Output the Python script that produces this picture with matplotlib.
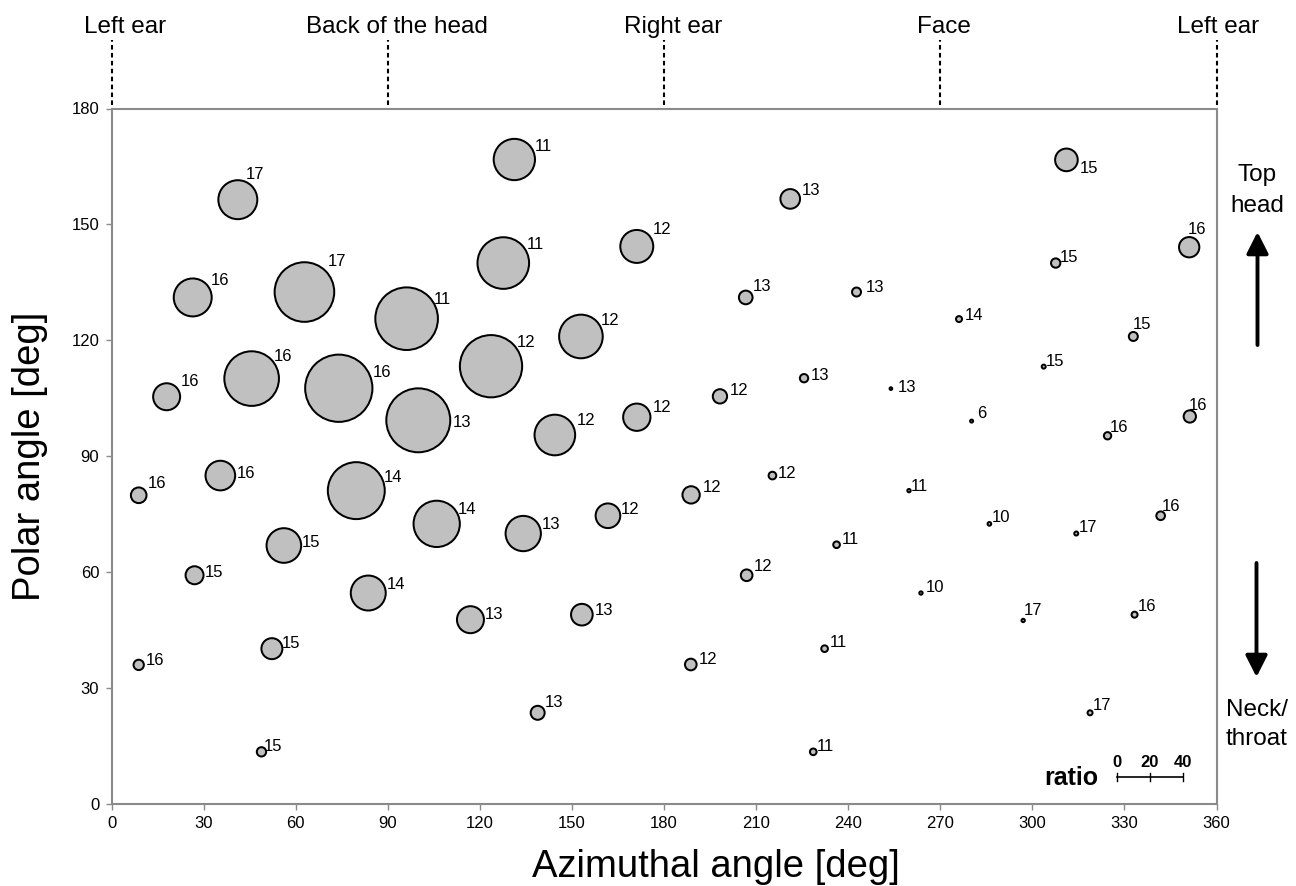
import matplotlib
matplotlib.use('Agg')
import matplotlib.pyplot as plt
import numpy as np

plt.rcParams['font.family'] = ['Liberation Sans', 'DejaVu Sans']

# ---------------- data ----------------
azimuth = [41.1, 26.4, 62.8, 96.1, 17.9, 45.6, 74.0, 99.9, 8.8, 35.4,
           79.7, 105.9, 56.1, 27.0, 83.6, 116.9, 52.2, 8.8, 48.8, 131.2,
           127.6, 171.1, 221.1, 206.6, 242.7, 152.9, 123.6, 225.6, 198.2, 171.1,
           144.4, 215.3, 188.8, 161.7, 134.1, 236.2, 206.9, 153.2, 188.7, 232.3,
           138.8, 228.6, 311.1, 351.1, 307.6, 253.9, 276.1, 332.9, 303.7, 280.2,
           324.5, 351.3, 259.8, 286.0, 314.3, 341.8, 263.7, 297.0, 333.3, 318.8]
polar = [156.4, 131.1, 132.5, 125.6, 105.4, 110.1, 107.6, 99.3, 79.9, 85.0,
         81.1, 72.5, 66.9, 59.2, 54.6, 47.7, 40.2, 36.0, 13.5, 166.8,
         140.0, 144.3, 156.6, 131.1, 132.5, 121.0, 113.3, 110.2, 105.5, 100.1,
         95.5, 85.0, 80.0, 74.6, 70.0, 67.1, 59.2, 49.0, 36.1, 40.2,
         23.6, 13.5, 166.7, 144.1, 140.0, 107.5, 125.5, 121.0, 113.2, 99.1,
         95.3, 100.3, 81.1, 72.5, 70.0, 74.6, 54.6, 47.5, 49.0, 23.6]
ratio = [24.6, 24.0, 37.0, 38.8, 17.4, 34.0, 41.6, 39.6, 10.6, 19.0,
         35.4, 29.0, 22.0, 12.0, 22.2, 17.4, 13.8, 7.4, 6.8, 26.0,
         32.2, 21.0, 13.0, 9.4, 6.6, 27.4, 38.6, 6.2, 9.8, 17.6,
         25.6, 5.8, 11.6, 16.0, 22.4, 5.2, 8.2, 14.2, 8.2, 5.2,
         9.6, 5.2, 14.8, 13.4, 6.8, 2.8, 4.8, 6.6, 3.6, 3.0,
         5.6, 8.6, 3.2, 3.4, 3.6, 6.4, 3.2, 3.2, 4.8, 4.2]
point_labels = [17, 16, 17, 11, 16, 16, 16, 13, 16, 16,
                14, 14, 15, 15, 14, 13, 15, 16, 15, 11,
                11, 12, 13, 13, 13, 12, 12, 13, 12, 12,
                12, 12, 12, 12, 13, 11, 12, 13, 12, 11,
                13, 11, 15, 16, 15, 13, 14, 15, 15, 6,
                16, 16, 11, 10, 17, 16, 10, 17, 16, 17]

x_ticks = [0, 30, 60, 90, 120, 150, 180, 210, 240, 270, 300, 330, 360]
y_ticks = [0, 30, 60, 90, 120, 150, 180]
region_names = ['Left ear', 'Back of the head', 'Right ear', 'Face', 'Left ear']
region_angles = [0, 90, 180, 270, 360]
scale_values = [0, 20, 40]

# ---------------- layout (pixels) ----------------
# label offsets from bubble centre: (right, up) in pixels
label_offsets = [(8, 21), (18.3, 12.7), (23.4, 25.6), (27.3, 15), (14.3, 11),
                 (22.3, 18), (34, 11.4), (34, -6.6), (9, 7), (16.7, -2.6),
                 (27.7, 8.3), (21, 9.7), (18.3, -1.6), (10.6, -1.4), (18.4, 3.7),
                 (14, 0.7), (9.7, 0.4), (7, 0), (2.7, 1.3), (20, 9),
                 (23.4, 14), (15.6, 12), (12, 3.6), (6.6, 6), (9.3, -0.4),
                 (19.7, 11.3), (25.7, 19.4), (6.7, -1.7), (9.3, 1), (15.6, 5),
                 (21.7, 10), (5.4, -2), (11.3, 2.7), (12.7, 1.4), (19, 4.3),
                 (5.6, 1), (7.3, 4.3), (13, -0.3), (7.6, 0.4), (5.3, 1.4),
                 (6.6, 5.4), (4, 1.3), (13.3, -13), (-1, 13.4), (4.3, 1),
                 (7.3, -3), (6, -0.7), (-0.6, 7), (2, 0.3), (5.6, 3),
                 (2.3, 3.7), (-1.4, 6.7), (1.7, -0.7), (2.4, 2), (2.7, 1.6),
                 (1.6, 4.7), (4.7, 1.3), (1, 5.3), (3.6, 3.7), (2.3, 2.7)]
region_dx = [13.3, 8.8, 9, 4, 1.5]

W, H, DPI = 1296, 886, 100
PT = 72.0 / DPI
fig = plt.figure(figsize=(W / DPI, H / DPI), dpi=DPI)
ax_l, ax_r, ax_t, ax_b = 111.7, 1216.5, 108.5, 804.0
ax = fig.add_axes([ax_l / W, 1 - ax_b / H, (ax_r - ax_l) / W, (ax_b - ax_t) / H])
ax.set_xlim(0, 360)
ax.set_ylim(0, 180)
px_per_deg_x = (ax_r - ax_l) / 360.0
px_per_deg_y = (ax_b - ax_t) / 180.0

# bubble size: scale bar of 40 ratio units = 66.6 px (outer diameter)
px_per_ratio = 66.6 / 40.0
edge_px = 2.0
diam_pt = np.clip(np.array(ratio) * px_per_ratio - edge_px, 1.0, None) * PT
ax.scatter(azimuth, polar, s=diam_pt ** 2, c='#c0c0c0', edgecolors='black',
           linewidths=edge_px * PT, zorder=3, clip_on=False)

for x, y, lab, (dx, dy) in zip(azimuth, polar, point_labels, label_offsets):
    ax.annotate(str(lab), (x, y), xytext=(dx * PT, dy * PT), textcoords='offset points',
                ha='left', va='baseline', fontsize=12, zorder=4)

# axes styling
ax.set_xticks(x_ticks)
ax.set_yticks(y_ticks)
for s in ax.spines.values():
    s.set_color('#8a8a8a')
    s.set_linewidth(1.5)
ax.tick_params(direction='out', length=4.5, width=1, color='#8a8a8a',
               labelsize=12, pad=4.5, labelcolor='black')

ax.set_xlabel('Azimuthal angle [deg]', fontsize=27.5)
ax.xaxis.set_label_coords((716 - ax_l) / (ax_r - ax_l), (ax_b - 876.7) / (ax_b - ax_t))
ax.xaxis.label.set_verticalalignment('baseline')
ax.set_ylabel('Polar angle [deg]', fontsize=27.5)
ax.yaxis.set_label_coords((30 - ax_l) / (ax_r - ax_l), 0.5)
ax.yaxis.label.set_verticalalignment('center')

# region markers on top
xt = ax.get_xaxis_transform()
y_line0 = (ax_b - 105) / (ax_b - ax_t)
y_line1 = (ax_b - 40) / (ax_b - ax_t)
for ang, name, ddx in zip(region_angles, region_names, region_dx):
    ax.plot([ang, ang], [y_line0, y_line1], transform=xt, clip_on=False,
            color='black', lw=1.5, ls=(0, (2.2, 1.6)))
    ax.annotate(name, xy=(ang, 1.0), xycoords=xt, xytext=(ddx * PT, (ax_t - 33.3) * PT),
                textcoords='offset points', ha='center', va='baseline', fontsize=17.5,
                annotation_clip=False)

# right-side annotations
cx = 1257.0
for txt, base in [('Top', 181), ('head', 211.7), ('Neck/', 716), ('throat', 745)]:
    fig.text(cx / W, 1 - base / H, txt, ha='center', va='baseline', fontsize=17.5)
arrow_kw = dict(arrowstyle='-|>,head_length=0.65,head_width=0.33', lw=2.8, color='black',
                shrinkA=0, shrinkB=0, mutation_scale=20)
ax.annotate('', xy=(1257.5, H - 232), xycoords='figure pixels',
            xytext=(1257.5, H - 345), textcoords='figure pixels', arrowprops=arrow_kw,
            annotation_clip=False)
ax.annotate('', xy=(1256.5, H - 677), xycoords='figure pixels',
            xytext=(1256.5, H - 563), textcoords='figure pixels', arrowprops=arrow_kw,
            annotation_clip=False)

# size scale bar
x0 = (1116.7 - ax_l) / px_per_deg_x
y0 = (ax_b - 777.3) / px_per_deg_y
xs = [x0 + v * px_per_ratio / px_per_deg_x for v in scale_values]
ax.plot([xs[0], xs[-1]], [y0, y0], color='black', lw=1.2, zorder=5)
tick_h = 4.0 / px_per_deg_y
for v, xv in zip(scale_values, xs):
    ax.plot([xv, xv], [y0 - tick_h, y0 + tick_h], color='black', lw=1.0, zorder=5)
    ax.text(xv, (ax_b - 767.3) / px_per_deg_y, str(v), ha='center', va='baseline',
            fontsize=12, fontweight='bold')
ax.text((1098 - ax_l) / px_per_deg_x, (ax_b - 785) / px_per_deg_y, 'ratio', ha='right',
        va='baseline', fontsize=18, fontweight='bold')

fig.savefig('out.png', dpi=DPI)
